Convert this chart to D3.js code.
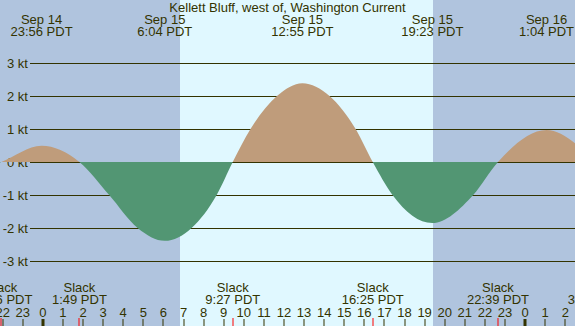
<!DOCTYPE html>
<html>
<head>
<meta charset="utf-8">
<script src="https://cdn.jsdelivr.net/npm/d3@7"></script>
<style>
  body { margin: 0; }
  svg { display: block; font-family: "Liberation Sans", Arial, sans-serif; }
</style>
</head>
<body>
<div id="tide"></div>
<script>
// station name
const title = "Kellett Bluff, west of, Washington Current"

// slack and max current events (times PDT, speed in knots)
const eventTimes = ["2023-09-14 19:10", "2023-09-14 21:56", "2023-09-14 23:56", "2023-09-15 01:49", "2023-09-15 06:04",
                    "2023-09-15 09:27", "2023-09-15 12:55", "2023-09-15 16:25", "2023-09-15 19:23", "2023-09-15 22:39",
                    "2023-09-16 01:04", "2023-09-16 03:29"]
const eventSpeeds = [-0.6, 0, 0.49, 0, -2.39, 0, 2.39, 0, -1.85, 0, 0.97, 0]

const crossTimes = ["2023-09-15 03:18", "2023-09-15 04:43", "2023-09-15 07:24", "2023-09-15 08:39",
                    "2023-09-15 10:20", "2023-09-15 11:39", "2023-09-15 14:16", "2023-09-15 15:34",
                    "2023-09-15 17:24", "2023-09-15 21:25"]
const crossSpeeds = [-1, -2, -2, -1, 1, 2, 2, 1, -1, -1]

// sun
const sunrise = "2023-09-15 06:50"
const sunset = "2023-09-15 19:25"

// y ticks
const speedTicks = [3, 2, 1, 0, -1, -2, -3]

// visible window
const windowStart = "2023-09-14 21:52"
const windowEnd = "2023-09-16 02:29"

gauge()
function gauge(){
  const width = 575, height = 326
  const ink = "#333300"
  const parse = d3.utcParse("%Y-%m-%d %H:%M")
  const dayFmt = d3.utcFormat("%b %d")
  const timeFmt = d3.utcFormat("%-H:%M")

  const events = eventTimes.map((t, i) => ({t: parse(t), v: eventSpeeds[i]}))
  const curve = events
    .concat(crossTimes.map((t, i) => ({t: parse(t), v: crossSpeeds[i]})))
    .sort((a, b) => a.t - b.t)

  const x = d3.scaleUtc()
    .domain([parse(windowStart), parse(windowEnd)])
    .range([0, width])
  const y = d3.scaleLinear()
    .domain([-3, 3])
    .range([261, 63])

  const svg = d3.select("#tide")
    .append("svg")
      .attr("width", width)
      .attr("height", height)

  // night / day background
  svg.append("rect")
    .attr("width", width).attr("height", height)
    .attr("fill", "#b0c4de")
  svg.append("rect")
    .attr("x", Math.round(x(parse(sunrise))))
    .attr("width", Math.round(x(parse(sunset))) - Math.round(x(parse(sunrise))))
    .attr("height", height)
    .attr("fill", "#e0f8ff")

  // grid lines
  svg.selectAll("line.grid")
    .data(speedTicks)
    .join("line")
      .attr("class", "grid")
      .attr("x1", 30).attr("x2", width)
      .attr("y1", d => y(d) + 0.5).attr("y2", d => y(d) + 0.5)
      .attr("stroke", ink)
      .attr("stroke-width", 1)

  svg.selectAll("text.ylab")
    .data(speedTicks)
    .join("text")
      .attr("class", "ylab")
      .attr("x", 28)
      .attr("y", d => y(d) + 5)
      .attr("text-anchor", "end")
      .attr("font-size", 13)
      .attr("fill", ink)
      .text(d => d + " kt")

  // flood above, ebb below
  const defs = svg.append("defs")
  defs.append("clipPath").attr("id", "above")
    .append("rect").attr("x", 0).attr("y", 0).attr("width", width).attr("height", y(0))
  defs.append("clipPath").attr("id", "below")
    .append("rect").attr("x", 0).attr("y", y(0)).attr("width", width).attr("height", height - y(0))

  const area = d3.area()
    .x(d => x(d.t))
    .y0(y(0))
    .y1(d => y(d.v))
    .curve(d3.curveMonotoneX)

  svg.append("path")
    .datum(curve)
    .attr("d", area)
    .attr("fill", "#bf9c7b")
    .attr("clip-path", "url(#above)")
  svg.append("path")
    .datum(curve)
    .attr("d", area)
    .attr("fill", "#529673")
    .attr("clip-path", "url(#below)")

  // title
  svg.append("text")
    .attr("x", width / 2).attr("y", 12)
    .attr("text-anchor", "middle")
    .attr("font-size", 13)
    .attr("fill", ink)
    .text(title)

  // max flood / ebb labels on top
  const peaks = events.filter(d => d.v !== 0)
  const top = svg.selectAll("g.peak")
    .data(peaks)
    .join("g")
      .attr("class", "peak")
      .attr("transform", d => `translate(${x(d.t)},0)`)
  top.append("text")
    .attr("y", 24).attr("text-anchor", "middle").attr("font-size", 13).attr("fill", ink)
    .text(d => dayFmt(d.t))
  top.append("text")
    .attr("y", 36).attr("text-anchor", "middle").attr("font-size", 13).attr("fill", ink)
    .text(d => timeFmt(d.t) + " PDT")

  // slack labels at bottom
  const slacks = events.filter(d => d.v === 0)
  const bot = svg.selectAll("g.slack")
    .data(slacks)
    .join("g")
      .attr("class", "slack")
      .attr("transform", d => `translate(${x(d.t)},0)`)
  bot.append("text")
    .attr("y", 292).attr("text-anchor", "middle").attr("font-size", 13).attr("fill", ink)
    .text("Slack")
  bot.append("text")
    .attr("y", 304).attr("text-anchor", "middle").attr("font-size", 13).attr("fill", ink)
    .text(d => timeFmt(d.t) + " PDT")

  // hour axis
  const hours = d3.utcHour.range(x.domain()[0], x.domain()[1])
  svg.selectAll("text.hour")
    .data(hours)
    .join("text")
      .attr("class", "hour")
      .attr("x", d => x(d))
      .attr("y", 317)
      .attr("text-anchor", "middle")
      .attr("font-size", 13)
      .attr("fill", ink)
      .text(d => d.getUTCHours())
  svg.selectAll("rect.tick")
    .data(hours)
    .join("rect")
      .attr("class", "tick")
      .attr("x", d => Math.round(x(d)) - (d.getUTCHours() === 0 ? 1.5 : 0.5))
      .attr("y", 319)
      .attr("width", d => d.getUTCHours() === 0 ? 3 : 1)
      .attr("height", height - 319)
      .attr("fill", ink)
  svg.selectAll("rect.slacktick")
    .data(slacks)
    .join("rect")
      .attr("class", "slacktick")
      .attr("x", d => Math.round(x(d.t)) - 0.5)
      .attr("y", 318)
      .attr("width", 1)
      .attr("height", height - 318)
      .attr("fill", "#ff0000")
}
</script>
</body>
</html>
